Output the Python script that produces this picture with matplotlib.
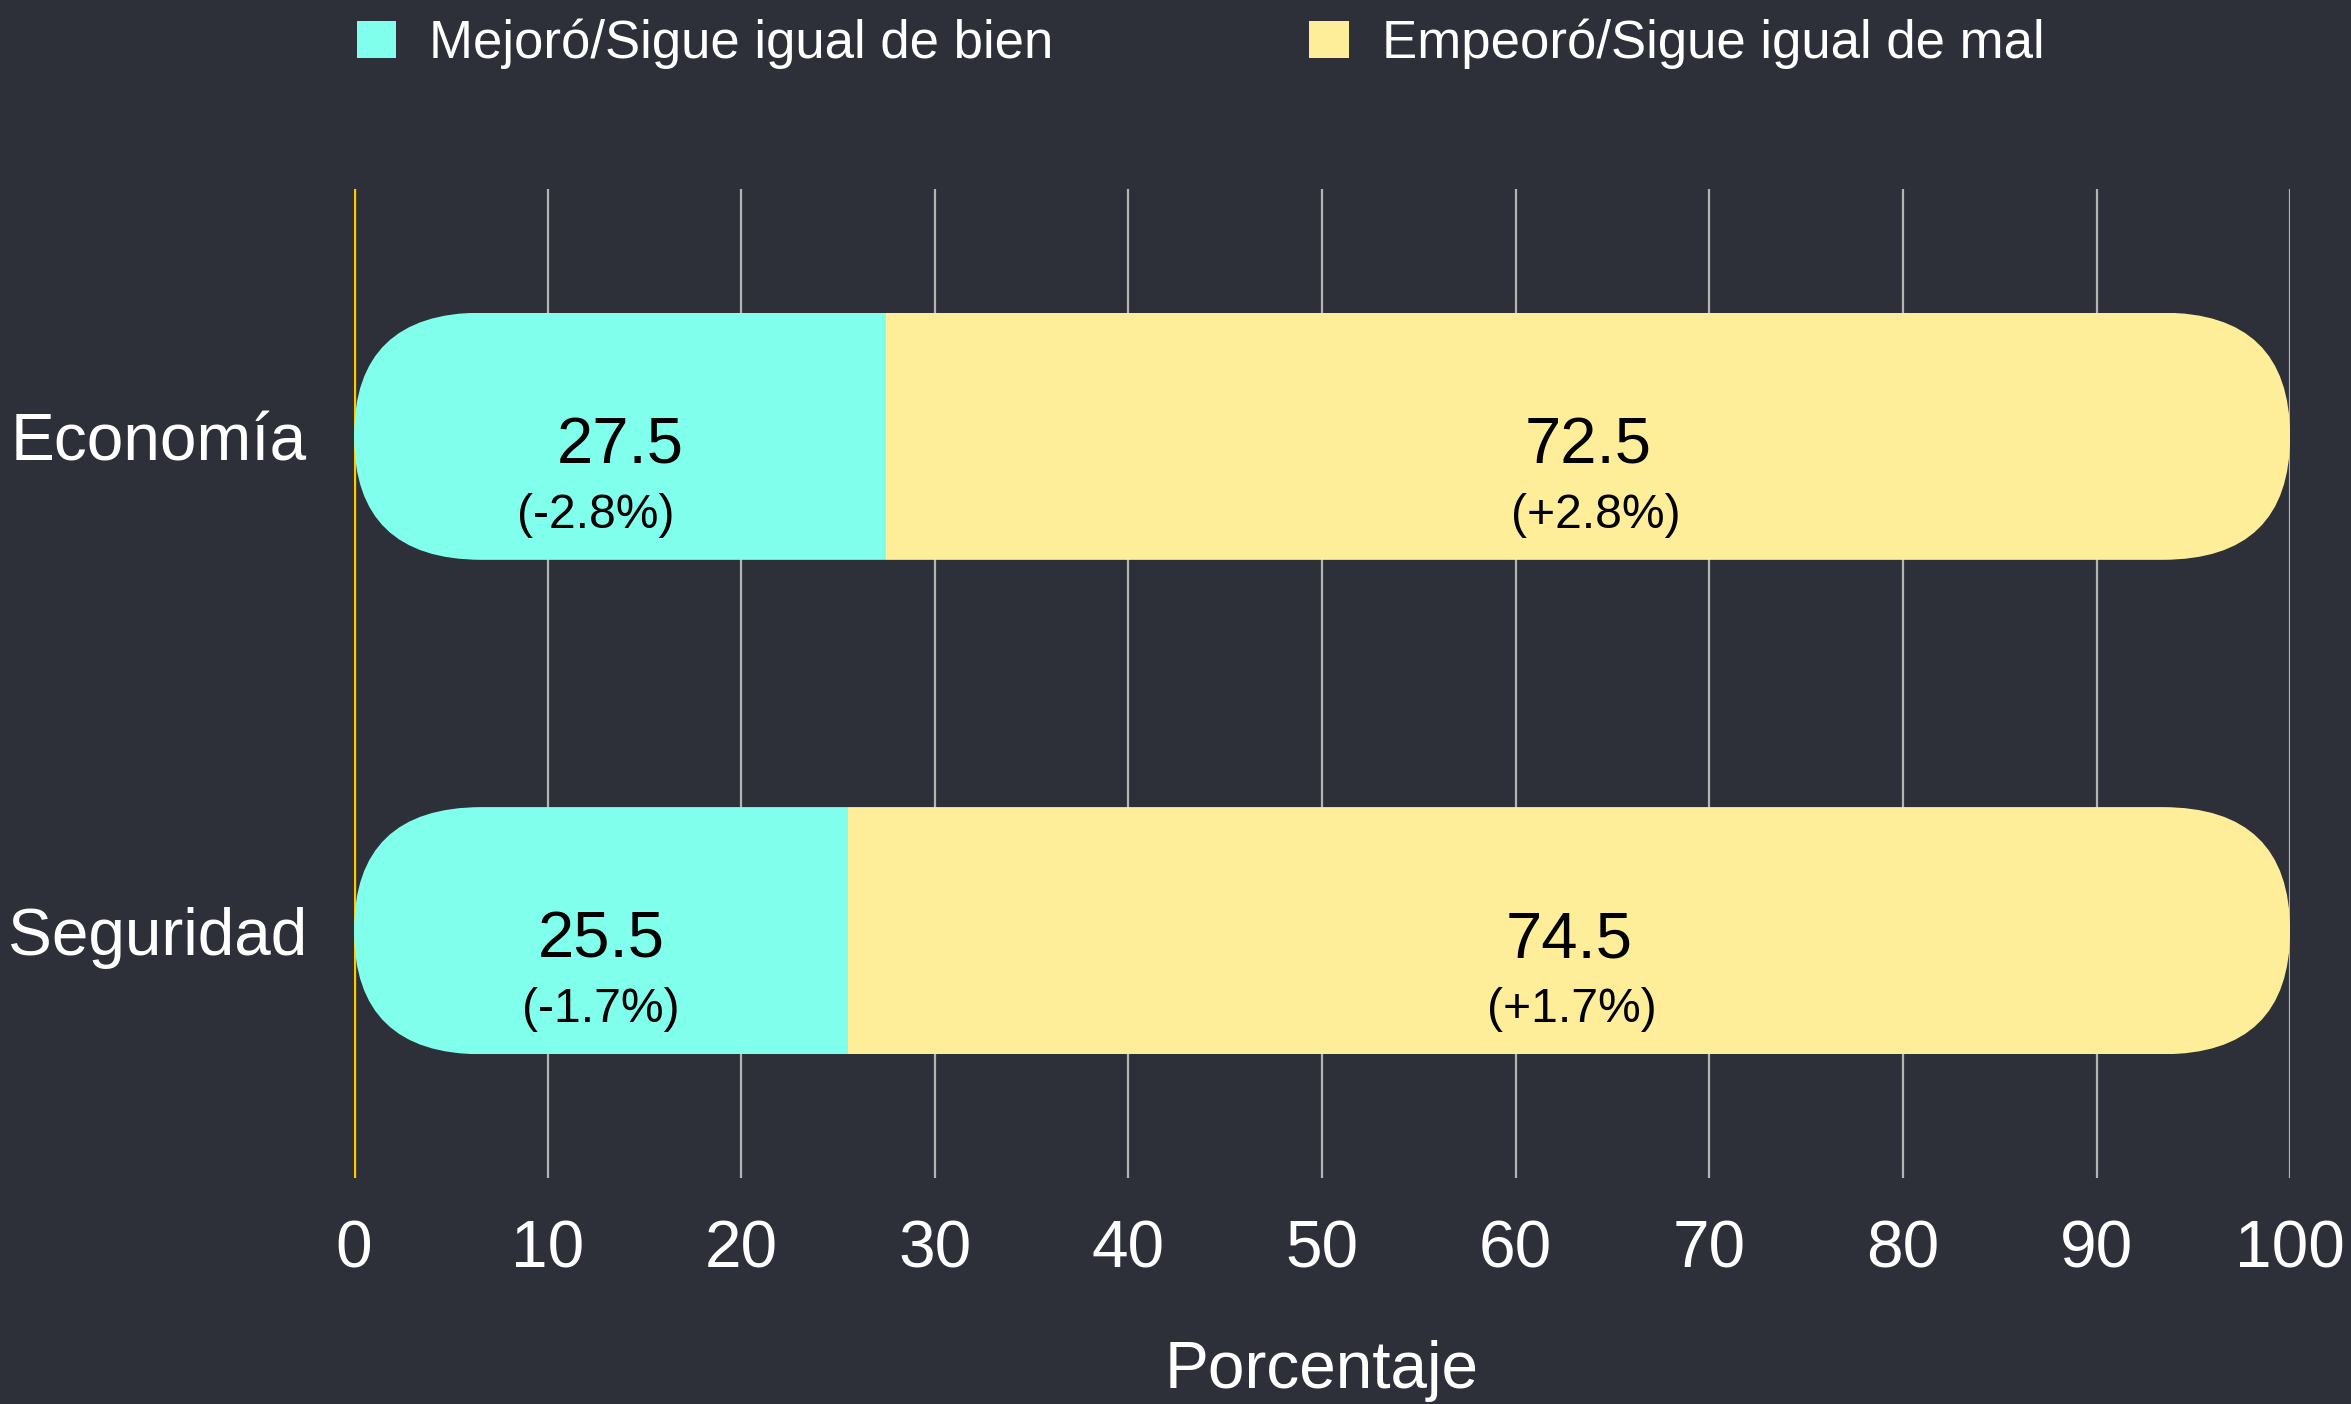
import matplotlib.pyplot as plt
from matplotlib.patches import FancyBboxPatch, Patch

# data
categories = ['Economía', 'Seguridad']
mejoro = [27.5, 25.5]
empeoro = [72.5, 74.5]
cambio_mejoro = ['(-2.8%)', '(-1.7%)']
cambio_empeoro = ['(+2.8%)', '(+1.7%)']
series_names = ['Mejoró/Sigue igual de bien', 'Empeoró/Sigue igual de mal']
xticks = [0, 10, 20, 30, 40, 50, 60, 70, 80, 90, 100]

# small horizontal nudges of the change labels, as in the original
nudge_mejoro = [-1.25, 0.0]
nudge_empeoro = [0.4, 0.15]

bg = '#2D3039'
cyan = '#80FFEC'
yellow = '#FFEE99'

plt.rcParams['font.family'] = ['Liberation Sans', 'DejaVu Sans']

fig = plt.figure(figsize=(11.755, 7.02), dpi=200, facecolor=bg)
ax = fig.add_axes([0.1506, 0.161, 0.8235, 0.7044])
ax.set_facecolor(bg)
ax.set_xlim(0, 100)
ax.set_ylim(1.5, -0.5)

# grid behind the bars
for t in xticks[1:]:
    ax.axvline(t, color='#B4B4B4', lw=0.8, zorder=0)
ax.axvline(0, color='#FFC800', lw=1.2, zorder=0)

bar_h = 0.5
r_x = 6.6  # horizontal rounding radius in data units
for i, cat in enumerate(categories):
    total = mejoro[i] + empeoro[i]
    clip = FancyBboxPatch((0, i - bar_h / 2), total, bar_h,
                          boxstyle='round,pad=0,rounding_size=%s' % r_x,
                          mutation_aspect=(bar_h / 2) / r_x,
                          facecolor='none', edgecolor='none')
    ax.add_patch(clip)
    b1 = ax.barh(i, mejoro[i], height=bar_h, color=cyan, zorder=2)
    b2 = ax.barh(i, empeoro[i], left=mejoro[i], height=bar_h, color=yellow, zorder=2)
    for b in list(b1) + list(b2):
        b.set_clip_path(clip)
    # labels
    c1 = mejoro[i] / 2
    c2 = mejoro[i] + empeoro[i] / 2
    ax.text(c1, i + 0.02, str(mejoro[i]), ha='center', va='center', fontsize=23.5, color='black', zorder=3)
    ax.text(c1 + nudge_mejoro[i], i + 0.16, cambio_mejoro[i], ha='center', va='center', fontsize=17.3, color='black', zorder=3)
    ax.text(c2, i + 0.02, str(empeoro[i]), ha='center', va='center', fontsize=23.5, color='black', zorder=3)
    ax.text(c2 + nudge_empeoro[i], i + 0.16, cambio_empeoro[i], ha='center', va='center', fontsize=17.3, color='black', zorder=3)

ax.set_yticks(range(len(categories)))
ax.set_yticklabels(categories)
ax.set_xticks(xticks)
ax.tick_params(axis='both', length=0, colors='white', labelsize=23.7)
ax.tick_params(axis='y', pad=17, labelsize=23.7)
ax.tick_params(axis='x', pad=15)
for s in ax.spines.values():
    s.set_visible(False)
ax.set_xlabel('Porcentaje', color='white', fontsize=23.7, labelpad=21)

handles = [Patch(facecolor=cyan, edgecolor='none'), Patch(facecolor=yellow, edgecolor='none')]
fig.legend(handles, series_names, loc='center left', bbox_to_anchor=(0.1316, 0.969),
           ncol=2, frameon=False, fontsize=19, labelcolor='white',
           handlelength=0.75, handleheight=0.72, handletextpad=0.62, columnspacing=4.85)

fig.savefig('out.png', dpi=200, facecolor=bg)
